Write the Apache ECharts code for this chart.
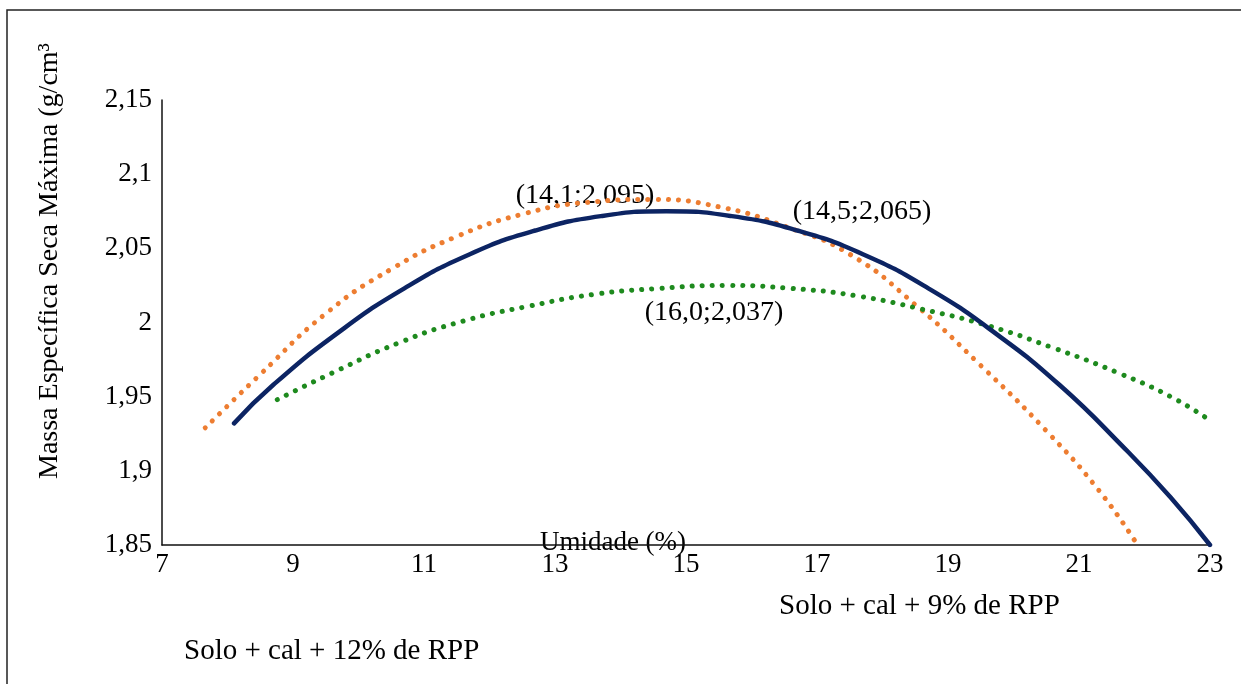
<!DOCTYPE html>
<html>
<head>
<meta charset="utf-8">
<script src="https://cdn.jsdelivr.net/npm/echarts@6/dist/echarts.min.js"></script>
<style>
  html, body { margin: 0; padding: 0; background: #fff; }
  #main { width: 1241px; height: 684px; }
</style>
</head>
<body>
<div id="main"></div>
<script>
// valores
var umidAzul = [8.1, 8.7, 9.7, 10.7, 11.7, 12.7, 13.7, 14.7, 15.7, 16.7, 17.7, 18.7, 19.7, 20.7, 21.7, 22.4, 23];
var massaAzul = [1.932, 1.958, 1.9935, 2.023, 2.046, 2.062, 2.0717, 2.075, 2.0717, 2.062, 2.046, 2.023, 1.9935, 1.958, 1.915, 1.882, 1.850];

var umidLaranja = [7.66, 8.5, 9.5, 10.5, 11.5, 12.5, 13.5, 14.5, 15.5, 16.5, 17.5, 18.5, 19.5, 20.5, 21.3, 21.85];
var massaLaranja = [1.929, 1.965, 2.006, 2.036, 2.058, 2.073, 2.081, 2.083, 2.078, 2.065, 2.046, 2.012, 1.971, 1.927, 1.887, 1.853];

var umidVerde = [8.76, 9.6, 10.6, 11.6, 12.6, 13.6, 14.6, 15.6, 16.6, 17.6, 18.6, 19.6, 20.6, 21.6, 22.4, 23];
var massaVerde = [1.948, 1.966, 1.986, 2.001, 2.011, 2.019, 2.023, 2.025, 2.023, 2.018, 2.009, 1.998, 1.983, 1.966, 1.950, 1.934];

var rotulos = ['(14,1;2,095)', '(14,5;2,065)', '(16,0;2,037)'];
var legendas = ['Solo + cal + 9% de RPP', 'Solo + cal + 12% de RPP'];

function pares(xs, ys) {
	var res = [];
	for (var i = 0; i < xs.length; i++) res.push([xs[i], ys[i]]);
	return res;
}

var fonte = '"Liberation Serif", "Times New Roman", serif';
var myChart = echarts.init(document.getElementById('main'));
var option = {
	backgroundColor: '#fff',
	animation: false,
	grid: { left: 162, right: 31, top: 100, bottom: 139 },
	xAxis: {
		type: 'value',
		min: 7, max: 23, interval: 2,
		axisLine: { show: true, lineStyle: { color: '#111', width: 1.5 } },
		axisTick: { show: false },
		splitLine: { show: false },
		axisLabel: { color: '#000', fontFamily: fonte, fontSize: 27, margin: 6 }
	},
	yAxis: {
		type: 'value',
		min: 1.85, max: 2.15, interval: 0.05,
		axisLine: { show: true, lineStyle: { color: '#111', width: 1.5 } },
		axisTick: { show: false },
		splitLine: { show: false },
		axisLabel: {
			color: '#000', fontFamily: fonte, fontSize: 27, margin: 10,
			formatter: function (v) { return String(+v.toFixed(2)).replace('.', ','); }
		}
	},
	series: [
		{
			name: legendas[0], type: 'line', smooth: true, symbol: 'none',
			data: pares(umidLaranja, massaLaranja),
			lineStyle: { color: '#ed7d31', width: 5, type: [0.1, 10], cap: 'round' }
		},
		{
			name: legendas[1], type: 'line', smooth: true, symbol: 'none',
			data: pares(umidVerde, massaVerde),
			lineStyle: { color: '#1e8a1e', width: 5, type: [0.1, 10], cap: 'round' }
		},
		{
			name: 'Solo + cal', type: 'line', smooth: true, symbol: 'none',
			data: pares(umidAzul, massaAzul),
			lineStyle: { color: '#0c2463', width: 4.5, cap: 'round' }
		}
	],
	graphic: [
		{ type: 'polyline', shape: { points: [[7, 700], [7, 10], [1260, 10]] }, style: { stroke: '#222', lineWidth: 1.5, fill: null } },
		{ type: 'text', x: 50, y: 261, rotation: Math.PI / 2,
		  style: { text: 'Massa Específica Seca Máxima (g/cm³', font: '28px ' + fonte, fill: '#000', align: 'center', verticalAlign: 'middle' } },
		{ type: 'text', x: 613, y: 543, style: { text: 'Umidade (%)', font: '27px ' + fonte, fill: '#000', align: 'center', verticalAlign: 'middle' } },
		{ type: 'text', x: 585, y: 196, style: { text: rotulos[0], font: '28px ' + fonte, fill: '#000', align: 'center', verticalAlign: 'middle' } },
		{ type: 'text', x: 862, y: 212, style: { text: rotulos[1], font: '28px ' + fonte, fill: '#000', align: 'center', verticalAlign: 'middle' } },
		{ type: 'text', x: 714, y: 313, style: { text: rotulos[2], font: '28px ' + fonte, fill: '#000', align: 'center', verticalAlign: 'middle' } },
		{ type: 'text', x: 779, y: 606, style: { text: legendas[0], font: '29px ' + fonte, fill: '#000', align: 'left', verticalAlign: 'middle' } },
		{ type: 'text', x: 184, y: 651, style: { text: legendas[1], font: '29px ' + fonte, fill: '#000', align: 'left', verticalAlign: 'middle' } }
	]
};
myChart.setOption(option);
</script>
</body>
</html>
